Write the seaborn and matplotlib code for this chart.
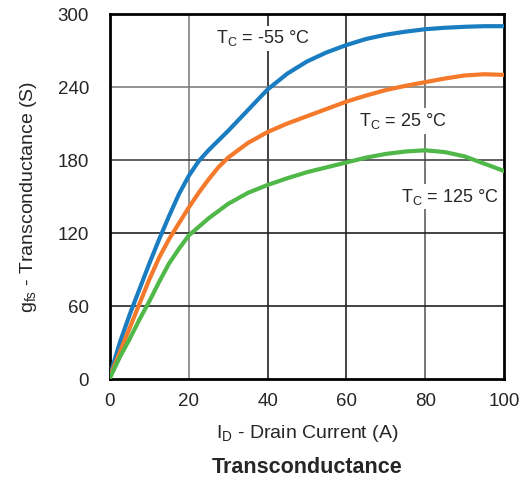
import numpy as np
import matplotlib
matplotlib.use("Agg")
import matplotlib.pyplot as plt
import seaborn as sns
import pandas as pd

# drain current (A)
current = [0, 2.5, 5, 7.5, 10, 12.5, 15, 17.5, 20, 22.5, 25, 27.5, 30, 35, 40,
           45, 50, 55, 60, 65, 70, 75, 80, 85, 90, 95, 100]

# transconductance (S)
gfs_m55 = [3, 30, 53, 74, 95, 115, 134, 152, 167, 179, 188, 196, 204, 221, 238,
           251, 261, 268.5, 274.5, 279.5, 283, 285.5, 287.5, 288.7, 289.5, 290, 290]
gfs_25 = [2, 22, 42, 62, 82, 100, 115, 128, 141, 153, 164, 174, 182, 194, 203,
          210, 216, 222, 228, 233, 237.5, 241, 244, 247, 249.5, 250.5, 250]
gfs_125 = [1, 18, 33, 49, 64, 80, 95, 107, 118, 125, 132, 138, 144, 153, 159.5,
           165, 170, 174, 178, 182, 185, 187, 188, 186.5, 183, 177, 171]

series = ["-55", "25", "125"]
colors = ["#1a7cc1", "#f4792a", "#50b848"]

df = pd.concat([
    pd.DataFrame({"I": current, "g": gfs_m55, "T": "-55"}),
    pd.DataFrame({"I": current, "g": gfs_25, "T": "25"}),
    pd.DataFrame({"I": current, "g": gfs_125, "T": "125"}),
])

sns.set_style("white")
plt.rcParams["font.family"] = ["Liberation Sans", "DejaVu Sans"]
plt.rcParams["mathtext.fontset"] = "custom"
plt.rcParams["mathtext.rm"] = "Liberation Sans"

fig = plt.figure(figsize=(5.23, 4.80), dpi=100)
ax = fig.add_axes([0.2103, 0.2104, 0.7534, 0.7604])

# grid lines (some grey, some black as in the original)
for x, c in [(20, "#808080"), (40, "#222222"), (60, "#222222"), (80, "#606060")]:
    ax.axvline(x, color=c, lw=1.2, zorder=0)
for y, c in [(60, "#222222"), (120, "#222222"), (180, "#444444"), (240, "#808080")]:
    ax.axhline(y, color=c, lw=1.2, zorder=0)

sns.lineplot(data=df, x="I", y="g", hue="T", hue_order=series,
             palette=colors, linewidth=3, legend=False, ax=ax, zorder=3)

ax.set_xlim(0, 100)
ax.set_ylim(0, 300)
ax.set_xticks([0, 20, 40, 60, 80, 100])
ax.set_yticks([0, 60, 120, 180, 240, 300])
ax.tick_params(labelsize=13.5, length=0)
ax.tick_params(axis="y", pad=15)
ax.tick_params(axis="x", pad=10)
for s in ax.spines.values():
    s.set_color("black")
    s.set_linewidth(2)

ax.set_xlabel(r"I$_\mathregular{D}$ - Drain Current (A)", fontsize=14)
ax.set_ylabel(r"g$_\mathregular{fs}$ - Transconductance (S)", fontsize=14)
ax.xaxis.label.set_va("center")
ax.yaxis.label.set_va("center")
ax.xaxis.set_label_coords(0.5, -0.148)
ax.yaxis.set_label_coords(-0.208, 0.5)

box = dict(facecolor="white", edgecolor="none", pad=2)
ax.text(38.9, 280, r"T$_\mathregular{C}$ = -55 °C", fontsize=13, ha="center", va="center", bbox=box, zorder=2)
ax.text(74.4, 212, r"T$_\mathregular{C}$ = 25 °C", fontsize=13, ha="center", va="center", bbox=box, zorder=2)
ax.text(86.3, 150, r"T$_\mathregular{C}$ = 125 °C", fontsize=13, ha="center", va="center", bbox=box, zorder=2)

fig.text(0.5875, 0.027, "Transconductance", fontsize=15.5, fontweight="bold", ha="center", va="center")

fig.savefig("out.png", dpi=100)
